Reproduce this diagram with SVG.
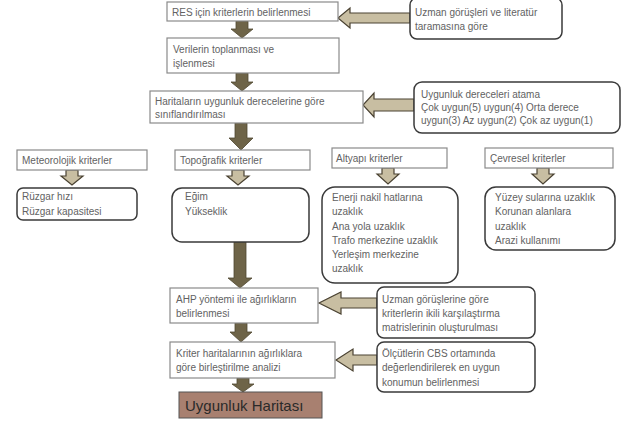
<svg xmlns="http://www.w3.org/2000/svg" width="631" height="423" viewBox="0 0 631 423">
<style>
text{font-family:"Liberation Sans",Arial,sans-serif;font-size:10px;fill:#626262}
.box{fill:#fff;stroke:#8a8a8a;stroke-width:1.2}
.rbox{fill:#fff;stroke:#3a3a3a;stroke-width:1.5}
.dark{fill:#6e6448;stroke:#4e4630;stroke-width:0.8}
.tan{fill:#c8bea2;stroke:#4a4232;stroke-width:1.2}
.final{fill:#a88070;stroke:#555;stroke-width:1}
.big{font-size:15px;fill:#2a2a2a}
</style>
<rect width="631" height="423" fill="#fff"/>
<g id="connectors">
<path class="dark" d="M236,21H248V29H253L242,38L231,29H236Z"/>
<path class="dark" d="M236,73H248V82H253L242,91L231,82H236Z"/>
<path class="dark" d="M235,123H247V138H253L241,150L229,138H235Z"/>
<path class="dark" d="M234,242H246V278H252L240,288L228,278H234Z"/>
<path class="dark" d="M235,323H247V332H252L241,342L230,332H235Z"/>
<path class="dark" d="M237,378H249V384H254L243,392L232,384H237Z"/>
<path class="tan" d="M410,13H350V8L338,18L350,28V23H410Z"/>
<path class="tan" d="M414,99H374V93L363,105L374,117V111H414Z"/>
<path class="tan" d="M377,298H341V292L319,303L341,314V308H377Z"/>
<path class="tan" d="M377,355H353V349L336,360L353,371V365H377Z"/>
<path class="tan" d="M66,170H78V176H83L72,185L61,176H66Z"/>
<path class="tan" d="M232,170H244V176H249L238,185L227,176H232Z"/>
<path class="tan" d="M382,168H394V174H399L388,184L377,174H382Z"/>
<path class="tan" d="M537,168H549V174H554L543,184L532,174H537Z"/>
</g>
<g id="n1"><rect class="box" x="167" y="2" width="171" height="19"/><text x="172" y="16">RES için kriterlerin belirlenmesi</text></g>
<g id="n2"><rect class="rbox" x="410" y="-2" width="152" height="41" rx="7"/><text x="415" y="16">Uzman görüşleri ve literatür</text><text x="415" y="30">taramasına göre</text></g>
<g id="n3"><rect class="box" x="167" y="38" width="172" height="35"/><text x="173" y="53">Verilerin toplanması ve</text><text x="173" y="67">işlenmesi</text></g>
<g id="n4"><rect class="box" x="150" y="91" width="213" height="32"/><text x="155" y="105">Haritaların uygunluk derecelerine göre</text><text x="155" y="118">sınıflandırılması</text></g>
<g id="n5"><rect class="rbox" x="414" y="82" width="206" height="51" rx="8"/><text x="421" y="98">Uygunluk dereceleri atama</text><text x="421" y="111">Çok uygun(5) uygun(4) Orta derece</text><text x="421" y="124">uygun(3) Az uygun(2) Çok az uygun(1)</text></g>
<g id="n6"><rect class="box" x="17" y="150" width="130" height="20"/><text x="22" y="164">Meteorolojik kriterler</text></g>
<g id="n7"><rect class="box" x="175" y="150" width="135" height="20"/><text x="180" y="164">Topoğrafik kriterler</text></g>
<g id="n8"><rect class="box" x="332" y="148" width="115" height="20"/><text x="336" y="162">Altyapı kriterler</text></g>
<g id="n9"><rect class="box" x="485" y="148" width="128" height="20"/><text x="490" y="162">Çevresel kriterler</text></g>
<g id="n10"><rect class="rbox" x="17" y="188" width="120" height="32" rx="6"/><text x="22" y="200">Rüzgar hızı</text><text x="22" y="215">Rüzgar kapasitesi</text></g>
<g id="n11"><rect class="rbox" x="172" y="188" width="137" height="54" rx="10"/><text x="185" y="200">Eğim</text><text x="185" y="215">Yükseklik</text></g>
<g id="n12"><rect class="rbox" x="322" y="187" width="136" height="96" rx="13"/><text x="332" y="201">Enerji nakil hatlarına</text><text x="332" y="215">uzaklık</text><text x="332" y="230">Ana yola uzaklık</text><text x="332" y="244">Trafo merkezine uzaklık</text><text x="332" y="258">Yerleşim merkezine</text><text x="332" y="272">uzaklık</text></g>
<g id="n13"><rect class="rbox" x="485" y="187" width="130" height="63" rx="11"/><text x="495" y="201">Yüzey sularına uzaklık</text><text x="495" y="215">Korunan alanlara</text><text x="495" y="230">uzaklık</text><text x="495" y="244">Arazi kullanımı</text></g>
<g id="n14"><rect class="box" x="170" y="288" width="148" height="35"/><text x="176" y="303">AHP yöntemi ile ağırlıkların</text><text x="176" y="317">belirlenmesi</text></g>
<g id="n15"><rect class="rbox" x="377" y="287" width="158" height="51" rx="7"/><text x="382" y="303">Uzman görüşlerine göre</text><text x="382" y="317">kriterlerin ikili karşılaştırma</text><text x="382" y="331">matrislerinin oluşturulması</text></g>
<g id="n16"><rect class="box" x="170" y="342" width="165" height="36"/><text x="176" y="357">Kriter haritalarının ağırlıklara</text><text x="176" y="371">göre birleştirilme analizi</text></g>
<g id="n17"><rect class="rbox" x="377" y="342" width="158" height="50" rx="7"/><text x="382" y="357">Ölçütlerin CBS ortamında</text><text x="382" y="371">değerlendirilerek en uygun</text><text x="382" y="386">konumun belirlenmesi</text></g>
<g id="n18"><rect class="final" x="179" y="392" width="143" height="26"/><text class="big" x="185" y="411">Uygunluk Haritası</text></g>
</svg>
